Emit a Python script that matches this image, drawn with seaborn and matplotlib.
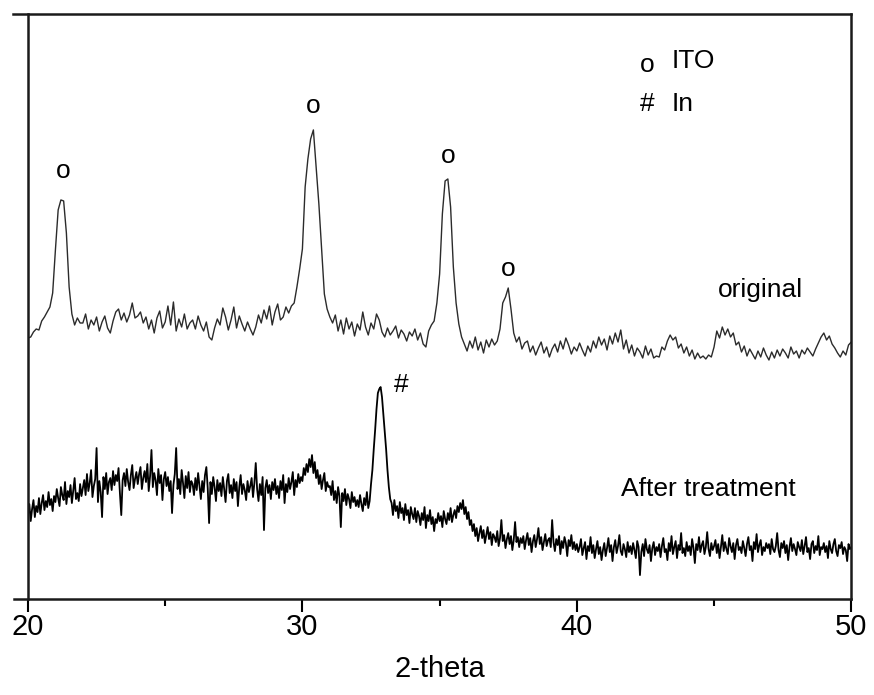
import numpy as np
import pandas as pd
import matplotlib
matplotlib.use("Agg")
import matplotlib.pyplot as plt
from matplotlib.ticker import MultipleLocator
import seaborn as sns

# XRD intensity (a.u.), original sample, 0.1 deg steps from 20 to 50
original = [
    261, 262, 267, 270, 269, 278, 282, 287, 292, 306,
    349, 389, 399, 398, 366, 312, 285, 274, 281, 276,
    276, 285, 270, 279, 274, 282, 268, 277, 283, 271,
    266, 278, 287, 290, 279, 286, 277, 284, 296, 281,
    283, 287, 276, 282, 270, 279, 266, 281, 288, 271,
    277, 293, 274, 297, 268, 280, 272, 285, 270, 276,
    279, 270, 283, 274, 268, 277, 262, 259, 271, 280,
    274, 291, 282, 269, 279, 292, 271, 283, 275, 268,
    277, 270, 264, 272, 284, 276, 289, 280, 293, 274,
    287, 295, 279, 282, 292, 286, 293, 296, 312, 330,
    350, 412, 440, 460, 469, 432, 395, 350, 305, 290,
    282, 276, 284, 268, 279, 265, 281, 270, 277, 263,
    275, 269, 287, 272, 264, 276, 270, 285, 279, 267,
    262, 271, 264, 268, 273, 261, 269, 265, 258, 267,
    263, 270, 259, 266, 255, 252, 268, 274, 278, 296,
    325, 385, 418, 420, 392, 332, 296, 275, 262, 255,
    248, 258, 251, 262, 249, 257, 246, 259, 252, 260,
    254, 258, 270, 296, 302, 311, 290, 266, 257, 262,
    250, 256, 258, 247, 253, 244, 251, 257, 246, 252,
    242, 250, 255, 247, 258, 250, 261, 254, 245, 252,
    248, 256, 249, 243, 253, 247, 258, 251, 262, 254,
    260, 249, 263, 255, 266, 257, 269, 250, 259, 246,
    254, 243, 251, 247, 241, 253, 244, 250, 241, 243,
    242, 252, 249, 258, 264, 259, 262, 251, 255, 246,
    252, 243, 249, 240, 246, 241, 243, 240, 244, 242,
    252, 268, 261, 272, 264, 270, 262, 266, 254, 257,
    247, 253, 243, 250, 245, 240, 248, 242, 251, 244,
    239, 247, 241, 249, 243, 250, 246, 241, 252, 245,
    248, 241, 249, 245, 251, 247, 243, 250, 256, 262,
    266, 259, 263, 255, 251, 246, 242, 248, 244, 254,
    257,
]

# after treatment, 0.05 deg steps from 20 to 50
treated = [
    84, 95, 78, 90, 99, 82, 93, 87, 101, 85, 96, 104, 89, 98, 92, 107, 94, 100, 88, 103,
    97, 110, 101, 93, 112, 104, 99, 117, 95, 108, 102, 114, 96, 109, 121, 100, 106, 98, 115, 103,
    111, 119, 104, 125, 108, 116, 129, 102, 113, 120, 151, 97, 118, 107, 82, 122, 110, 126, 105, 117,
    121, 109, 128, 114, 124, 118, 131, 106, 84, 119, 126, 113, 130, 117, 109, 124, 134, 111, 120, 127,
    115, 125, 132, 110, 121, 128, 117, 135, 108, 123, 149, 112, 126, 119, 104, 130, 116, 124, 99, 120,
    127, 113, 122, 108, 118, 86, 114, 125, 151, 110, 120, 105, 129, 116, 101, 123, 111, 127, 107, 118,
    115, 104, 121, 109, 126, 113, 100, 118, 107, 124, 132, 111, 76, 117, 105, 122, 112, 98, 119, 108,
    116, 103, 122, 110, 97, 118, 125, 106, 114, 101, 120, 108, 117, 93, 112, 124, 105, 115, 109, 99,
    118, 107, 113, 121, 102, 116, 136, 110, 98, 115, 104, 122, 69, 111, 119, 106, 114, 100, 117, 109,
    120, 105, 113, 101, 118, 109, 124, 96, 115, 107, 121, 110, 117, 127, 104, 119, 112, 125, 116, 122,
    118, 131, 124, 135, 127, 140, 132, 144, 126, 137, 121, 129, 115, 124, 110, 119, 126, 108, 117, 112,
    113, 104, 118, 99, 108, 96, 112, 103, 72, 106, 98, 110, 94, 105, 100, 91, 107, 97, 102, 93,
    99, 92, 104, 95, 88, 101, 94, 107, 91, 98, 115, 129, 150, 169, 190, 206, 210, 212, 202, 185,
    169, 150, 129, 112, 100, 96, 84, 99, 88, 93, 81, 97, 86, 91, 79, 95, 84, 89, 76, 92,
    85, 80, 91, 77, 88, 83, 74, 86, 79, 92, 71, 84, 78, 89, 75, 82, 68, 80, 76, 86,
    78, 83, 72, 88, 80, 75, 86, 79, 91, 77, 84, 89, 81, 93, 87, 96, 90, 99, 85, 92,
    80, 87, 74, 79, 68, 75, 63, 71, 58, 66, 73, 61, 69, 56, 64, 72, 60, 67, 54, 65,
    62, 57, 68, 53, 61, 79, 58, 64, 51, 60, 66, 55, 63, 49, 59, 77, 57, 62, 52, 61,
    56, 63, 50, 59, 66, 54, 61, 47, 58, 64, 52, 60, 71, 55, 62, 49, 57, 65, 53, 59,
    61, 52, 79, 57, 48, 60, 54, 63, 45, 58, 51, 62, 56, 43, 59, 53, 64, 50, 57, 49,
    55, 47, 52, 60, 44, 51, 57, 40, 53, 48, 62, 46, 54, 41, 50, 58, 45, 52, 39, 49,
    56, 43, 51, 61, 47, 54, 38, 52, 59, 46, 53, 64, 48, 44, 55, 50, 42, 57, 47, 53,
    45, 56, 49, 41, 58, 52, 24, 47, 55, 43, 60, 50, 46, 54, 38, 51, 57, 44, 52, 48,
    55, 42, 53, 61, 47, 50, 39, 56, 48, 63, 45, 52, 58, 41, 54, 49, 66, 46, 51, 43,
    57, 48, 53, 44, 60, 51, 36, 55, 49, 62, 47, 54, 58, 45, 52, 67, 50, 43, 56, 49,
    53, 59, 46, 55, 41, 52, 64, 48, 57, 50, 45, 61, 53, 47, 56, 40, 54, 60, 49, 52,
    46, 58, 51, 43, 55, 62, 49, 53, 38, 57, 50, 65, 47, 54, 59, 44, 52, 48, 56, 51,
    55, 45, 60, 50, 47, 53, 66, 49, 42, 56, 51, 58, 46, 54, 39, 52, 61, 48, 55, 50,
    44, 57, 52, 48, 59, 45, 53, 62, 47, 51, 40, 55, 58, 46, 53, 49, 63, 44, 52, 50,
    56, 47, 53, 41, 58, 50, 46, 55, 60, 48, 43, 54, 51, 57, 45, 52, 49, 38, 55, 50,
    52,
]

# peak markers (2-theta, height of symbol)
ito_peaks = [21.3, 30.4, 35.3, 37.5]
ito_marks = [428, 493, 443, 330]
in_peak = (33.6, 214)

df_orig = pd.DataFrame({"two_theta": 20 + 0.1 * np.arange(len(original)), "I": original})
df_trt = pd.DataFrame({"two_theta": 20 + 0.05 * np.arange(len(treated)), "I": treated})

sns.set_style("ticks")
plt.rcParams['font.family'] = ['Liberation Sans', 'DejaVu Sans']
plt.rcParams['text.color'] = 'black'
plt.rcParams['xtick.color'] = 'black'
plt.rcParams['axes.labelcolor'] = 'black'

fig = plt.figure(figsize=(8.74, 6.95), dpi=100)
ax = fig.add_axes([0.032, 0.138, 0.942, 0.842])

sns.lineplot(data=df_orig, x="two_theta", y="I", color="#2b2b2b", lw=1.0, ax=ax)
sns.lineplot(data=df_trt, x="two_theta", y="I", color="black", lw=1.3, ax=ax)

for x, y in zip(ito_peaks, ito_marks):
    ax.text(x, y, "o", ha="center", va="center", fontsize=19)
ax.text(in_peak[0], in_peak[1], "#", ha="center", va="center", fontsize=19)

ax.text(0.752, 0.912, "o", transform=ax.transAxes, ha="center", va="center", fontsize=19)
ax.text(0.782, 0.920, "ITO", transform=ax.transAxes, ha="left", va="center", fontsize=19)
ax.text(0.752, 0.846, "#", transform=ax.transAxes, ha="center", va="center", fontsize=19)
ax.text(0.782, 0.846, "In", transform=ax.transAxes, ha="left", va="center", fontsize=19)
ax.text(46.7, 309, "original", ha="center", va="center", fontsize=19)
ax.text(44.8, 110, "After treatment", ha="center", va="center", fontsize=19)

ax.set_xlim(20, 50)
ax.set_ylim(0, 585)
ax.set_xticks([20, 30, 40, 50])
ax.xaxis.set_minor_locator(MultipleLocator(5))
ax.set_yticks([])
ax.set_ylabel("")
ax.set_xlabel("2-theta", fontsize=21, labelpad=10)
ax.tick_params(axis="x", which="major", direction="out", length=9, width=1.5,
               labelsize=21, pad=1)
ax.tick_params(axis="x", which="minor", direction="out", length=5, width=1.5)
for side in ["left", "right", "top", "bottom"]:
    ax.spines[side].set_visible(True)
    ax.spines[side].set_linewidth(1.8)
    ax.spines[side].set_color("#1a1a1a")
# frame lines run a little past the left edge in the original figure
ax.spines["top"].set_bounds(19.45, 50)
ax.spines["bottom"].set_bounds(19.5, 50)

fig.savefig("out.png", dpi=100)
